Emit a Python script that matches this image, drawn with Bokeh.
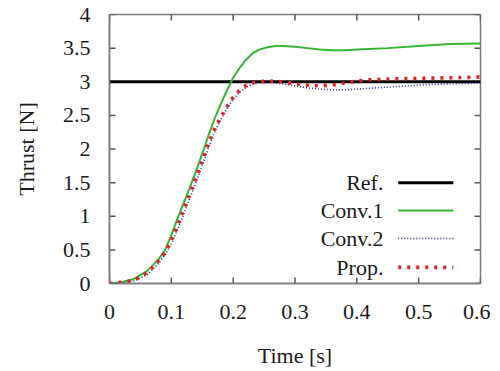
from bokeh.plotting import figure
from bokeh.models import Range1d, FixedTicker
from bokeh.core.properties import value
from bokeh.embed import file_html
from bokeh.resources import INLINE

# ---- data ----
ref_value = 3.0

t_conv1 = [0, 0.02, 0.04, 0.06, 0.07, 0.08, 0.09, 0.10, 0.11, 0.12, 0.13, 0.14, 0.15,
           0.16, 0.17, 0.18, 0.19, 0.20, 0.21, 0.22, 0.23, 0.24, 0.25, 0.26, 0.27,
           0.28, 0.30, 0.32, 0.34, 0.36, 0.38, 0.40, 0.45, 0.50, 0.55, 0.60]
y_conv1 = [0, 0.02, 0.07, 0.18, 0.27, 0.37, 0.50, 0.72, 0.97, 1.20, 1.43, 1.67, 1.93,
           2.20, 2.45, 2.67, 2.87, 3.06, 3.20, 3.32, 3.41, 3.47, 3.50, 3.52, 3.53,
           3.53, 3.52, 3.50, 3.48, 3.47, 3.47, 3.48, 3.50, 3.53, 3.56, 3.57]

t_conv2 = [0, 0.02, 0.04, 0.05, 0.06, 0.07, 0.08, 0.09, 0.10, 0.11, 0.12, 0.13, 0.14,
           0.15, 0.16, 0.17, 0.18, 0.19, 0.20, 0.21, 0.22, 0.23, 0.24, 0.26, 0.28,
           0.30, 0.32, 0.34, 0.36, 0.38, 0.40, 0.45, 0.50, 0.55, 0.60]
y_conv2 = [0, 0.01, 0.04, 0.08, 0.13, 0.21, 0.31, 0.43, 0.59, 0.80, 1.03, 1.27, 1.50,
           1.75, 2.02, 2.25, 2.44, 2.60, 2.74, 2.84, 2.91, 2.96, 2.98, 2.99, 2.97,
           2.94, 2.91, 2.89, 2.88, 2.88, 2.89, 2.92, 2.95, 2.97, 2.98]

t_prop = [0, 0.01, 0.02, 0.03, 0.04, 0.05, 0.06, 0.07, 0.08, 0.09, 0.10, 0.11, 0.12,
          0.13, 0.14, 0.15, 0.16, 0.17, 0.18, 0.19, 0.20, 0.21, 0.22, 0.23, 0.24,
          0.26, 0.28, 0.30, 0.32, 0.34, 0.36, 0.38, 0.40, 0.42, 0.45, 0.50, 0.55, 0.60]
y_prop = [0, 0.01, 0.02, 0.03, 0.06, 0.10, 0.16, 0.24, 0.34, 0.46, 0.64, 0.86, 1.10,
          1.33, 1.57, 1.82, 2.08, 2.30, 2.47, 2.63, 2.77, 2.87, 2.94, 2.98, 3.00,
          3.01, 3.00, 2.97, 2.95, 2.94, 2.95, 2.98, 3.01, 3.03, 3.04, 3.05, 3.06, 3.07]

x_ticks = [0, 0.1, 0.2, 0.3, 0.4, 0.5, 0.6]
x_tick_labels = ["0", "0.1", "0.2", "0.3", "0.4", "0.5", "0.6"]
y_ticks = [0, 0.5, 1, 1.5, 2, 2.5, 3, 3.5, 4]
y_tick_labels = ["0", "0.5", "1", "1.5", "2", "2.5", "3", "3.5", "4"]

legend_labels = ["Ref.", "Conv.1", "Conv.2", "Prop."]

FONT = "Liberation Serif"
FRAME = "#7a7a7a"
TICK = "#555555"
TXT = "#1a1a1a"
XMIN, XMAX, YMIN, YMAX = 0, 0.6, 0, 4

p = figure(width=490, height=371, output_backend="svg", toolbar_location=None,
           x_range=Range1d(XMIN, XMAX), y_range=Range1d(YMIN, YMAX),
           min_border_left=109, min_border_right=10, min_border_top=14,
           min_border_bottom=88)
p.background_fill_color = "white"
p.border_fill_color = "white"
p.outline_line_color = FRAME
p.outline_line_width = 1.5
p.grid.visible = False

def style_axis(ax, ticks, labels):
    ax.ticker = FixedTicker(ticks=ticks)
    ax.axis_line_color = FRAME
    ax.axis_line_width = 1.5
    ax.major_tick_line_color = None
    ax.minor_tick_line_color = None
    ax.major_label_text_font = FONT
    ax.major_label_text_font_size = "22px"
    ax.major_label_text_color = TXT
    ax.major_label_overrides = {tk: lb for tk, lb in zip(ticks, labels)}
    ax.axis_label_text_font = FONT
    ax.axis_label_text_font_size = "22px"
    ax.axis_label_text_font_style = "normal"
    ax.axis_label_text_color = TXT

xa = p.xaxis[0]
ya = p.yaxis[0]
style_axis(xa, x_ticks, x_tick_labels)
style_axis(ya, y_ticks, y_tick_labels)
xa.axis_label = "Time [s]"
ya.axis_label = "Thrust [N]"
xa.major_label_standoff = 15
xa.axis_label_standoff = 21
ya.major_label_standoff = 13
ya.axis_label_standoff = 21

# inward tick marks on all four sides (about 6 px long)
tx = 6 / 371 * (XMAX - XMIN)
ty = 6 / 269 * (YMAX - YMIN)
nx, ny = len(x_ticks), len(y_ticks)
p.segment(x0=x_ticks, y0=[YMIN] * nx, x1=x_ticks, y1=[YMIN + ty] * nx,
          line_color=TICK, line_width=1.5)
p.segment(x0=x_ticks, y0=[YMAX] * nx, x1=x_ticks, y1=[YMAX - ty] * nx,
          line_color=TICK, line_width=1.5)
p.segment(x0=[XMIN] * ny, y0=y_ticks, x1=[XMIN + tx] * ny, y1=y_ticks,
          line_color=TICK, line_width=1.5)
p.segment(x0=[XMAX] * ny, y0=y_ticks, x1=[XMAX - tx] * ny, y1=y_ticks,
          line_color=TICK, line_width=1.5)

# series
RED_DASH = "3 6"
BLUE_DASH = "1 2"
p.line([XMIN, XMAX], [ref_value, ref_value], line_color="black", line_width=3)
p.line(t_conv1, y_conv1, line_color="#33b533", line_width=2)
p.line(t_conv2, y_conv2, line_color="#2a2a9a", line_width=1.6, line_dash=BLUE_DASH)
p.line(t_prop, y_prop, line_color="#dd2222", line_width=3.6, line_dash=RED_DASH)

# custom legend (gnuplot style: label left, sample right)
leg_y = [1.50, 1.085, 0.67, 0.24]
leg_text_x = 0.443
leg_x0, leg_x1 = 0.467, 0.556
p.text(x=[leg_text_x] * 4, y=leg_y, text=legend_labels, text_align="right",
       text_baseline="middle", text_font=value(FONT), text_font_size="22px",
       text_color=TXT)
p.line([leg_x0, leg_x1], [leg_y[0]] * 2, line_color="black", line_width=3)
p.line([leg_x0, leg_x1], [leg_y[1]] * 2, line_color="#33b533", line_width=2)
p.line([leg_x0, leg_x1], [leg_y[2]] * 2, line_color="#2a2a9a", line_width=1.6,
       line_dash=BLUE_DASH)
p.line([leg_x0, leg_x1], [leg_y[3]] * 2, line_color="#dd2222", line_width=3.6,
       line_dash=RED_DASH)

open("out.html", "w").write(file_html(p, INLINE))
